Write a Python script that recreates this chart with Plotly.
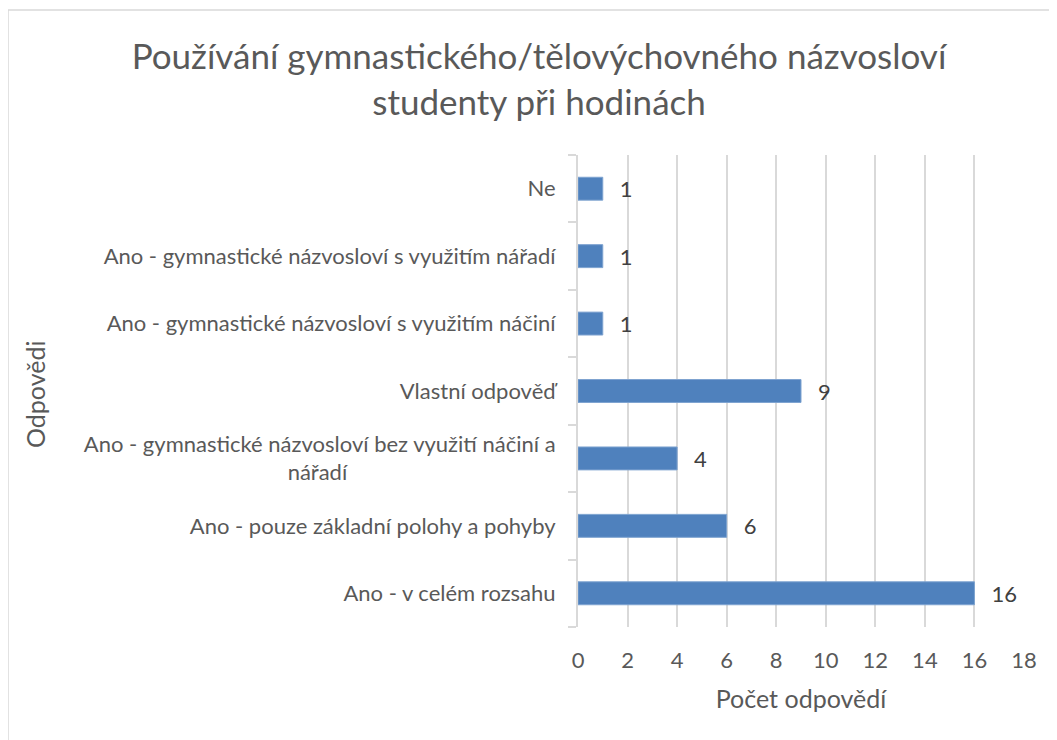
import plotly.graph_objects as go

categories = [
    "Ano - v celém rozsahu",
    "Ano - pouze základní polohy a pohyby",
    "Ano - gymnastické názvosloví bez využití náčiní a<br>nářadí" + "\u00a0" * 37,
    "Vlastní odpověď",
    "Ano - gymnastické názvosloví s využitím náčiní",
    "Ano - gymnastické názvosloví s využitím nářadí",
    "Ne",
]
values = [16, 6, 4, 9, 1, 1, 1]
x_ticks = [0, 2, 4, 6, 8, 10, 12, 14, 16, 18]

title_text = "Používání gymnastického/tělovýchovného názvosloví<br>studenty při hodinách"
x_title = "Počet odpovědí"
y_title = "Odpovědi"

FONT = "Lato"
GREY = "#595959"

W, H = 1057, 740
OFF = 8  # page body margin
PL, PR, PT, PB = 578 - OFF, 1024 - OFF, 155 - OFF, 627 - OFF
PW, PH = PR - PL, PB - PT

fig = go.Figure()
fig.add_trace(go.Bar(
    y=categories,
    x=values,
    orientation="h",
    marker=dict(color="#4F81BD", line=dict(color="#7EA3D0", width=1)),
    text=[str(v) for v in values],
    texttemplate="\u00a0\u00a0\u2009%{text}",
    textposition="outside",
    constraintext="none",
    textfont=dict(family=FONT, size=22, color="#404040"),
    cliponaxis=False,
    hoverinfo="skip",
))

fig.update_layout(
    width=W,
    height=H,
    paper_bgcolor="white",
    plot_bgcolor="white",
    margin=dict(l=PL, r=W - PR, t=PT, b=H - PB, autoexpand=False),
    bargap=0.66,
    showlegend=False,
    font=dict(family=FONT, color=GREY),
    title=dict(
        text=title_text,
        x=(539 - OFF) / W,
        xref="container",
        xanchor="center",
        y=1 - (69 - OFF) / H,
        yref="container",
        yanchor="middle",
        font=dict(family=FONT, size=35, color=GREY),
    ),
    xaxis=dict(
        range=[0, 18],
        tickvals=x_ticks,
        showgrid=True,
        gridcolor="#D9D9D9",
        gridwidth=2,
        zeroline=False,
        showline=False,
        ticks="",
        ticklabelstandoff=18,
        tickfont=dict(family=FONT, size=22, color=GREY),
        title=dict(text=x_title, font=dict(family=FONT, size=25, color=GREY), standoff=18),
        automargin=False,
    ),
    yaxis=dict(
        showgrid=False,
        showline=True,
        linecolor="#D9D9D9",
        linewidth=2,
        ticks="outside",
        tickson="boundaries",
        ticklen=8,
        tickcolor="#D9D9D9",
        tickwidth=2,
        ticklabelstandoff=16,
        tickfont=dict(family=FONT, size=22, color=GREY),
        automargin=False,
    ),
    annotations=[dict(
        text=y_title,
        x=(35 - OFF - PL) / PW,
        y=(PB - (395 - OFF)) / PH,
        xref="paper",
        yref="paper",
        xanchor="center",
        yanchor="middle",
        showarrow=False,
        textangle=-90,
        font=dict(family=FONT, size=25, color=GREY),
    )],
)

# chart border (partially outside the visible area)
fig.add_shape(
    type="rect",
    xref="paper",
    yref="paper",
    x0=(0 - PL) / PW,
    x1=(1070 - PL) / PW,
    y0=(PB - 760) / PH,
    y1=(PB - 2) / PH,
    line=dict(color="#D9D9D9", width=1.5),
    fillcolor="rgba(0,0,0,0)",
    layer="below",
)

fig.write_html("out.html")
